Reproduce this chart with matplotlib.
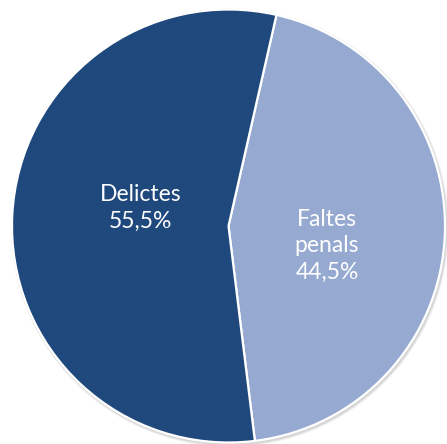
import matplotlib
matplotlib.use('Agg')
import matplotlib.pyplot as plt
from matplotlib.patches import Circle

labels = ['Faltes\npenals', 'Delictes']
values = [44.5, 55.5]
colors = ['#95a9d1', '#1f497d']

W, H = 447, 444
cx, cy, r = 228.5, 226, 216.5

fig = plt.figure(figsize=(W / 100, H / 100), dpi=100)
ax = fig.add_axes([0, 0, 1, 1])

# soft shadow behind the pie
for i, a in enumerate([0.10, 0.12, 0.15]):
    ax.add_patch(Circle((0.006, -0.008), 1.012 - i * 0.004, color='#808080', alpha=a, lw=0, zorder=0))

wedges, _ = ax.pie(values, colors=colors, startangle=77.2, counterclock=False,
                   wedgeprops=dict(edgecolor='white', linewidth=1.6),
                   labeldistance=None, frame=True)
ax.set_aspect('auto')
ax.set_xlim(-cx / r, (W - cx) / r)
ax.set_ylim(-(H - cy) / r, cy / r)
ax.axis('off')

label_pos = [(0.455, -0.092), (-0.405, 0.083)]
for lab, v, (x, y) in zip(labels, values, label_pos):
    txt = f'{lab}\n{v:.1f}%'.replace('.', ',')
    ax.text(x, y, txt, ha='center', va='center', color='white',
            fontsize=16.5, family=['Lato', 'DejaVu Sans'], linespacing=1.32)

fig.savefig('out.png', dpi=100)
